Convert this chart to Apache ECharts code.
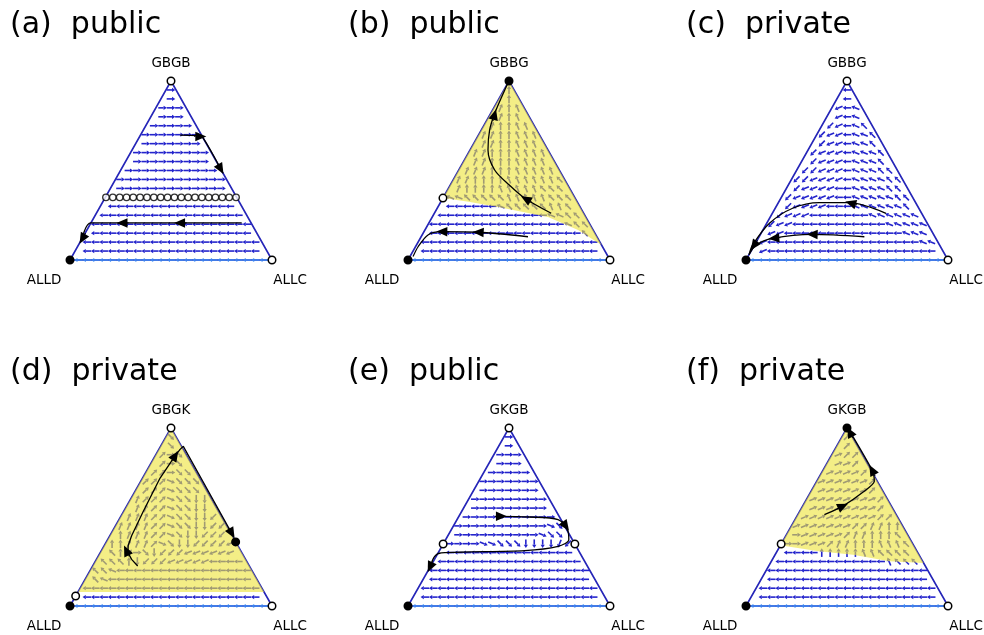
<!DOCTYPE html>
<html>
<head>
<meta charset="utf-8">
<script src="https://cdn.jsdelivr.net/npm/echarts@6/dist/echarts.min.js"></script>
<style>
html, body { margin: 0; padding: 0; background: #fff; }
#chart { width: 984px; height: 635px; }
</style>
</head>
<body>
<div id="chart"></div>
<script>
// panel texts
var panelTitles = ['(a)  public', '(b)  public', '(c)  private', '(d)  private', '(e)  public', '(f)  private'];
var topLabels = ['GBGB', 'GBBG', 'GBBG', 'GBGK', 'GKGB', 'GKGB'];
var leftLabel = 'ALLD';
var rightLabel = 'ALLC';

// heights of the arrow rows (fraction of the way from the ALLD-ALLC side to the top vertex)
var rowY = [0.95, 0.9, 0.85, 0.8, 0.75, 0.7, 0.65, 0.6, 0.55, 0.5, 0.45, 0.4, 0.35, 0.3, 0.25, 0.2, 0.15, 0.1, 0.05, 0];

// arrow directions, one character per arrow, left to right (numpad style, letters are the half steps)
// 6 right, 9 up-right, 8 up, 7 up-left, 4 left, 1 down-left, 2 down, 3 down-right, '.' no arrow
var dirAngle = { '6': 0, 'a': 22.5, '9': 45, 'b': 67.5, '8': 90, 'c': 112.5, '7': 135, 'd': 157.5,
  '4': 180, 'e': 202.5, '1': 225, 'f': 247.5, '2': 270, 'g': 292.5, '3': 315, 'h': 337.5 };

var fieldA = ['6', '6', '6', '6', '6', '6', '6', '6', '6', '6', '6', '6', '.', '4', '4', '4', '4', '4', '4', '4'];
var fieldB = ['8', '8', 'b8c', 'b8c', 'b88cc', 'bb88ccc', 'bb88ccc', 'bb888cccc', 'bb888cccc', 'bbb888ccccc',
  'bb8888cccccc7', 'b8888ccccc777', 'dd77777ccccc777', '444444d77777cc7', '4444444444444dd77',
  '4444444444444444d77', '4444444444444444447', '4', '4', '4'];
var fieldC = ['4', '4', 'e4d', 'e4d', '1e4d7', '1ee4dd7', '1ee4dd7', '1eee4ddd7', '1eee4ddd7', '11eee4ddd77',
  '11eeee4dddd77', '1eeee44dddd77', '1eeeee44ddddd77', '1eeee444dddddd7', '1eee4444444dddddd',
  '1ee44444444444ddddd', 'ee44444444444444ddd', 'e444444444444444444dd', 'e4', '4'];
var fieldD = ['3', '3', '963', '963', '99633', '999h333', '999h333', 'b999h3322', 'bb99h3322', 'bbb99h33221',
  'bbbb99h332211', '8bbb99h322111', '88bbb9h3221111e', '789632111eeeeee', '77782111eeeee4444',
  '77d4444444444444444', '7d44444444444444444', '4', '4', '4'];
var fieldE = ['6', '6', '6', '6', '6', '6', '6', '6', '6', '6', '66666666666h3', '6666666666h33',
  '6666hh3332222f1', '4', '4', '4', '4', '4', '4', '4'];
var fieldF = ['9', '9', 'a99', 'aa9', 'aaaa9', 'aaaaaa9', 'aaaaaa9', 'aaaaaaaa9', 'aaaaaaaa9', 'aaaaaaaaa99',
  'aaaaaaa99bb88', '6aaaaa9bb8887', '66aaa9bb888ccc7', '444488888cc7777', '4444444444444c777',
  '4', '4', '4', '4', '4'];

// vertex states: top, ALLD, ALLC ('o' unstable / open, 'f' stable / filled)
var vertA = ['o', 'f', 'o'];
var vertB = ['f', 'f', 'o'];
var vertC = ['o', 'f', 'o'];
var vertD = ['o', 'f', 'o'];
var vertE = ['o', 'f', 'o'];
var vertF = ['f', 'f', 'o'];

// other rest points [x, y, state]
var extraA = [];
var extraB = [[0.173, 0.346, 'o']];
var extraC = [];
var extraD = [[0.028, 0.056, 'o'], [0.82, 0.36, 'f']];
var extraE = [[0.174, 0.348, 'o'], [0.826, 0.348, 'o']];
var extraF = [[0.174, 0.348, 'o']];

// line of rest points in (a)
var restLineY = 0.35;
var restLineX = [0.178, 0.212, 0.246, 0.280, 0.313, 0.347, 0.381, 0.415, 0.449, 0.483,
  0.517, 0.551, 0.585, 0.619, 0.653, 0.687, 0.720, 0.754, 0.788, 0.822];

// shaded basins
var yellowB = [[0.173, 0.346], [0.5, 1], [0.958, 0.084], [0.842, 0.168], [0.693, 0.24], [0.446, 0.296], [0.3, 0.325]];
var yellowD = [[0.04, 0.078], [0.5, 1], [0.961, 0.078]];
var yellowF = [[0.174, 0.348], [0.5, 1], [0.879, 0.242], [0.71, 0.251], [0.53, 0.288], [0.36, 0.307], [0.2, 0.335]];

// sample trajectories
var trajA1 = [[0.545, 0.698], [0.63, 0.695], [0.656, 0.687], [0.757, 0.486]];
var trajA2 = [[0.85, 0.207], [0.103, 0.207], [0.058, 0.112]];
var trajB1 = [[0.709, 0.261], [0.578, 0.345], [0.5, 0.42], [0.429, 0.503], [0.396, 0.615], [0.404, 0.726], [0.429, 0.819], [0.479, 0.95], [0.5, 1]];
var trajB2 = [[0.594, 0.13], [0.347, 0.155], [0.165, 0.158], [0.099, 0.14], [0.05, 0.074], [0.025, 0.019]];
var trajC1 = [[0.693, 0.261], [0.511, 0.32], [0.363, 0.32], [0.231, 0.289], [0.116, 0.205], [0.033, 0.084], [0.015, 0.03]];
var trajC2 = [[0.586, 0.13], [0.33, 0.143], [0.132, 0.121], [0.05, 0.084], [0.015, 0.03]];
var trajD1 = [[0.335, 0.225], [0.305, 0.262], [0.287, 0.3], [0.288, 0.34], [0.305, 0.395], [0.363, 0.532],
  [0.446, 0.719], [0.52, 0.843], [0.545, 0.88], [0.561, 0.897], [0.809, 0.392]];
var trajE1 = [[0.446, 0.504], [0.6, 0.5], [0.743, 0.485], [0.792, 0.42], [0.796, 0.372], [0.743, 0.335], [0.578, 0.311], [0.165, 0.298], [0.132, 0.279], [0.107, 0.213]];
var trajF1 = [[0.388, 0.513], [0.478, 0.56], [0.58, 0.64], [0.635, 0.7], [0.627, 0.757], [0.52, 0.97]];

// arrow heads on the trajectories [x, y, angle in degrees]
var headsA = [[0.645, 0.69, 0], [0.745, 0.51, 300], [0.26, 0.207, 180], [0.545, 0.207, 180], [0.062, 0.12, 240]];
var headsB = [[0.585, 0.34, 150], [0.428, 0.81, 75], [0.35, 0.155, 177], [0.17, 0.158, 179]];
var headsC = [[0.52, 0.317, 164], [0.04, 0.082, 235], [0.33, 0.143, 178], [0.14, 0.122, 185]];
var headsD = [[0.28, 0.31, 115], [0.52, 0.843, 57], [0.80, 0.41, 300]];
var headsE = [[0.46, 0.504, 0], [0.78, 0.45, 305], [0.11, 0.22, 245]];
var headsF = [[0.478, 0.56, 25], [0.625, 0.762, 118], [0.515, 0.975, 118]];

var panels = [
  { field: fieldA, vert: vertA, extra: extraA, yellow: null, traj: [trajA1, trajA2], heads: headsA, restLine: true, smooth: 0.3 },
  { field: fieldB, vert: vertB, extra: extraB, yellow: yellowB, traj: [trajB1, trajB2], heads: headsB, smooth: 0.3 },
  { field: fieldC, vert: vertC, extra: extraC, yellow: null, traj: [trajC1, trajC2], heads: headsC, smooth: 0.3 },
  { field: fieldD, vert: vertD, extra: extraD, yellow: yellowD, traj: [trajD1], heads: headsD, smooth: false },
  { field: fieldE, vert: vertE, extra: extraE, yellow: null, traj: [trajE1], heads: headsE, smooth: 0.3 },
  { field: fieldF, vert: vertF, extra: extraF, yellow: yellowF, traj: [trajF1], heads: headsF, smooth: 0.2 }
];

var colLeft = [70, 408, 746];
var rowTop = [81, 428];
var rowH = [179, 178];
var titleLeft = [10, 348, 686];
var titleTop = [10, 357];
var nCols = 24;
var edgeGap = 0.02;

function fieldData(rows) {
  var out = [];
  rowY.forEach(function (y, r) {
    var s = rows[r];
    var hw = (1 - y) / 2 - edgeGap;
    var i = 0;
    for (var j = 0; j <= nCols; j++) {
      var x = j / nCols;
      if (Math.abs(x - 0.5) >= hw) continue;
      var ch = s.charAt(Math.min(i, s.length - 1));
      i++;
      if (ch === '.') continue;
      out.push({ value: [x, y, dirAngle[ch]], itemStyle: { color: y === 0 ? '#3b86f0' : '#2424cc' } });
    }
  });
  return out;
}

function arrowShape(p, ang, len, hl, hw, color, lw) {
  var a = ang * Math.PI / 180;
  var dx = Math.cos(a), dy = -Math.sin(a);
  var x0 = p[0] - dx * len / 2, y0 = p[1] - dy * len / 2;
  var x1 = p[0] + dx * len / 2, y1 = p[1] + dy * len / 2;
  var bx = x1 - dx * hl, by = y1 - dy * hl;
  return {
    type: 'group',
    children: [
      { type: 'line', shape: { x1: x0, y1: y0, x2: bx, y2: by }, style: { stroke: color, lineWidth: lw } },
      { type: 'polygon', shape: { points: [[x1, y1], [bx - dy * hw, by + dx * hw], [bx + dy * hw, by - dx * hw]] },
        style: { fill: color } }
    ]
  };
}

var grids = [], xAxes = [], yAxes = [], series = [], titles = [];

panels.forEach(function (pn, k) {
  var c = k % 3, r = Math.floor(k / 3);
  grids.push({ left: colLeft[c], top: rowTop[r], width: 202, height: rowH[r] });
  xAxes.push({ type: 'value', gridIndex: k, min: 0, max: 1, show: false });
  yAxes.push({ type: 'value', gridIndex: k, min: 0, max: 1, show: false });
  titles.push({
    text: panelTitles[k], left: titleLeft[c], top: titleTop[r], padding: 0,
    textStyle: { fontFamily: 'DejaVu Sans', fontSize: 30, fontWeight: 'normal', color: '#000' }
  });

  // triangle sides
  series.push({
    type: 'line', xAxisIndex: k, yAxisIndex: k, data: [[0, 0], [0.5, 1], [1, 0], [0, 0]],
    symbol: 'none', clip: false, z: 1, silent: true,
    lineStyle: { color: '#2626b8', width: 1.6 }
  });

  // vector field
  series.push({
    type: 'custom', xAxisIndex: k, yAxisIndex: k, data: fieldData(pn.field), clip: false, z: 2, silent: true,
    renderItem: function (params, api) {
      var p = api.coord([api.value(0), api.value(1)]);
      return arrowShape(p, api.value(2), 8.6, 3.3, 2.1, api.visual('color'), 1.6);
    }
  });

  // basin of attraction
  if (pn.yellow) {
    var poly = pn.yellow;
    series.push({
      type: 'custom', xAxisIndex: k, yAxisIndex: k, data: [[0, 0]], clip: false, z: 3, silent: true,
      renderItem: function (params, api) {
        return {
          type: 'polygon',
          shape: { points: poly.map(function (q) { return api.coord(q); }) },
          style: { fill: 'rgba(238,228,60,0.62)' }
        };
      }
    });
  }

  // trajectories
  pn.traj.forEach(function (t) {
    series.push({
      type: 'line', xAxisIndex: k, yAxisIndex: k, data: t, symbol: 'none', smooth: pn.smooth, clip: false, z: 4,
      silent: true, lineStyle: { color: '#000', width: 1.3 }
    });
  });
  series.push({
    type: 'custom', xAxisIndex: k, yAxisIndex: k, data: pn.heads, clip: false, z: 5, silent: true,
    renderItem: function (params, api) {
      var p = api.coord([api.value(0), api.value(1)]);
      return arrowShape(p, api.value(2), 12, 11, 4.8, '#000', 1.2);
    }
  });

  // line of rest points
  if (pn.restLine) {
    series.push({
      type: 'scatter', xAxisIndex: k, yAxisIndex: k, clip: false, z: 6, silent: true,
      data: restLineX.map(function (x) { return [x, restLineY]; }),
      symbol: 'circle', symbolSize: 6.5,
      itemStyle: { color: '#fff', borderColor: '#000', borderWidth: 1.4 }
    });
  }

  // vertices and rest points
  var lab = { color: '#000', fontFamily: 'DejaVu Sans', fontSize: 13.5 };
  var pts = [
    { value: [0.5, 1], st: pn.vert[0], label: Object.assign({ show: true, formatter: topLabels[k], position: 'top', distance: 6 }, lab) },
    { value: [0, 0], st: pn.vert[1], label: Object.assign({ show: true, formatter: leftLabel, position: 'inside', offset: [-26, 20] }, lab) },
    { value: [1, 0], st: pn.vert[2], label: Object.assign({ show: true, formatter: rightLabel, position: 'inside', offset: [18, 20] }, lab) }
  ];
  pn.extra.forEach(function (e) { pts.push({ value: [e[0], e[1]], st: e[2] }); });
  series.push({
    type: 'scatter', xAxisIndex: k, yAxisIndex: k, clip: false, z: 7, silent: true,
    symbol: 'circle', symbolSize: 7.5,
    data: pts.map(function (d) {
      return {
        value: d.value,
        label: d.label || { show: false },
        itemStyle: { color: d.st === 'f' ? '#000' : '#fff', borderColor: '#000', borderWidth: 1.5, opacity: 1 }
      };
    })
  });
});

var chart = echarts.init(document.getElementById('chart'), null, { renderer: 'canvas' });
chart.setOption({
  animation: false,
  backgroundColor: '#fff',
  title: titles,
  grid: grids,
  xAxis: xAxes,
  yAxis: yAxes,
  series: series
});
</script>
</body>
</html>
